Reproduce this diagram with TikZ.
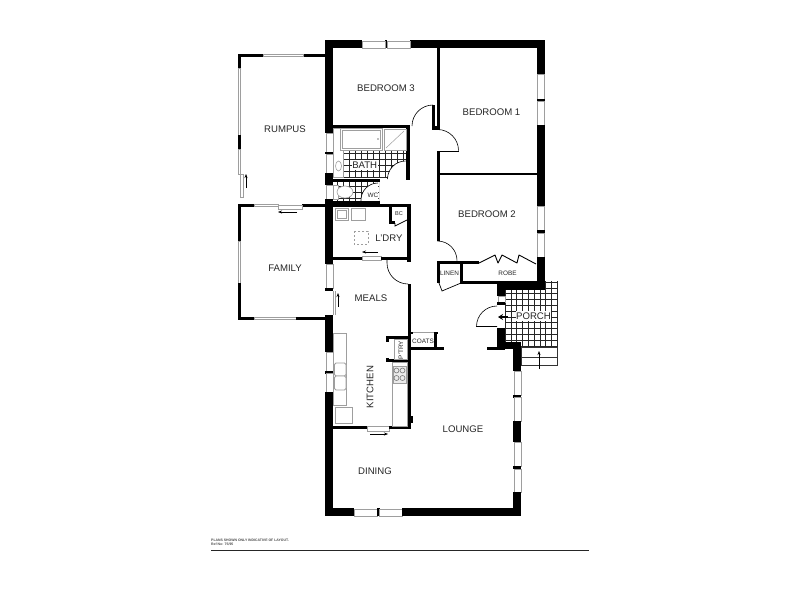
\documentclass[tikz,border=0pt]{standalone}
\usepackage{fontspec}
\setmainfont{Liberation Sans}
\usetikzlibrary{arrows.meta}
\newcommand{\wl}[4]{\fill[black] (#1,#2) rectangle (#3,#4);}
\newcommand{\wn}[4]{\filldraw[winline,fill=white] (#1,#2) rectangle (#3,#4);}
\tikzset{
  winline/.style={draw=black!38,line width=0.5pt},
  fixture/.style={draw=black!38,line width=0.6pt,fill=white},
  tile/.style={black!85,line width=0.6pt},
  doorline/.style={black,line width=0.6pt},
  thinarrow/.style={black,line width=0.5pt,-{Stealth[length=4pt,width=3pt]}},
  big/.style={font=\fontsize{9.6}{10}\selectfont,text=black!85,inner sep=0pt},
  small/.style={font=\fontsize{6.4}{7}\selectfont,text=black!85,inner sep=0pt},
  tiny/.style={font=\fontsize{3.45}{4}\selectfont\bfseries,text=black!70,inner sep=0pt,anchor=west},
}
\begin{document}
\begin{tikzpicture}[x=1pt,y=-1pt]
\useasboundingbox (0,0) rectangle (800,600);
\fill[white] (0,0) rectangle (800,600);
% tiles: bath
\begin{scope}
\clip (343,151) rectangle (406,178);
\foreach \k in {0,...,11} {\draw[tile] (343+6*\k,151) -- (343+6*\k,178);}
\foreach \k in {0,...,4} {\draw[tile] (343,153+6*\k) -- (406,153+6*\k);}
\end{scope}
% tiles: wc
\begin{scope}
\clip (333,181) rectangle (379,204);
\foreach \k in {0,...,8} {\draw[tile] (337+6*\k,181) -- (337+6*\k,204);}
\foreach \k in {0,...,4} {\draw[tile] (333,181+5.6*\k) -- (379,181+5.6*\k);}
\end{scope}
% tiles: porch
\begin{scope}
\clip (505,281) rectangle (558,347);
\foreach \k in {0,...,9} {\draw[tile] (505+5.8*\k,281) -- (505+5.8*\k,347);}
\foreach \k in {0,...,11} {\draw[tile] (505,282+5.8*\k) -- (558,282+5.8*\k);}
\end{scope}
% door sweeps over tiles
\fill[white] (406,161) arc[start angle=-90,end angle=-180,radius=18] -- (388,180) -- (406,180) -- cycle;
\draw[doorline] (405.5,161) arc[start angle=-90,end angle=-180,radius=18];
\fill[white] (378,183) arc[start angle=-90,end angle=-180,radius=17] -- (361,201) -- (378,201) -- cycle;
\draw[doorline] (378,183) arc[start angle=-90,end angle=-180,radius=17] -- (361,201);
% steps
\draw[black!80,line width=0.5pt] (521,347) rectangle (557.5,365);
\draw[black!80,line width=0.5pt] (521,357) -- (557.5,357);
\draw[thinarrow] (539,369) -- (539,351);
% outer walls
\wl{325}{40}{362}{48}\wl{410}{40}{545}{48}\wl{385}{40}{387}{48}
\wn{362}{41}{385}{48}\wn{387}{41}{410}{48}
\wl{537}{40}{545}{74}\wn{537.5}{74}{544}{99}\wl{537}{99}{545}{101.5}\wn{537.5}{101.5}{544}{125}
\wl{537}{125}{545}{206}\wn{537.5}{206}{544}{230}\wl{537}{230}{545}{233}\wn{537.5}{233}{544}{257}
\wl{537}{257}{545}{290}\wl{497}{283}{545}{290}
\wl{325}{40}{333}{133}\wn{326}{133}{333}{152}\wl{325}{152}{333}{154}\wn{326}{154}{333}{173}
\wl{325}{173}{333}{185}\wn{326}{185}{333}{199}\wl{325}{199}{333}{264}
\wn{326}{264}{333}{288}\wl{325}{288}{333}{291}
\draw[winline] (333,291) -- (333,315);
\draw[winline] (335,291) -- (335,315);
\wl{325}{315}{333}{352}\wn{326}{352}{333}{371}\wl{325}{371}{333}{373.5}\wn{326}{373.5}{333}{392}
\wl{325}{392}{333}{516}
\wl{325}{508}{354}{516}\wn{354}{509}{377}{516}\wl{377}{508}{379.5}{516}\wn{379.5}{509}{402}{516}\wl{402}{508}{521}{516}
\wl{513}{342}{521}{371}\wn{514}{371}{521}{395}\wl{513}{395}{521}{397.5}\wn{514}{397.5}{521}{421}
\wl{513}{421}{521}{442}\wn{514}{442}{521}{466}\wl{513}{466}{521}{469}\wn{514}{469}{521}{492}\wl{513}{492}{521}{516}
% entry walls
\wl{497}{290}{505}{296}\wn{498}{296}{505}{302}\wl{497}{302}{505}{305}\wl{497}{328}{505}{343}
\wl{497}{342}{521}{349}\wl{487}{347}{505}{349.5}
% porch door
\draw[doorline] (497,306) arc[start angle=-90,end angle=-180,radius=20.5] -- (497,326.5);
\draw[black,line width=2.6pt,-{Stealth[length=5pt,width=6pt]}] (508,317) -- (498,317);
% rumpus
\wl{238}{54}{263}{57}\wl{303}{54}{325}{57}\wn{263}{54.5}{303}{56.5}
\wl{238}{54}{241}{68}\wn{238.5}{68}{240.5}{135}\wl{238}{135}{241}{149}
\wn{238.5}{149}{240.5}{174}\wn{240.5}{174}{243.5}{197}
\draw[thinarrow] (246,188) -- (246,174);
\wl{238}{204}{254}{207}\wl{302}{204}{325}{207}
\wn{254}{204.5}{278}{206.5}\wn{278}{205.5}{302}{209}
\draw[thinarrow] (297,212) -- (278,212);
% family
\wl{238}{204}{241}{241}\wn{238.5}{241}{240.5}{283}\wl{238}{283}{241}{320}
\wl{238}{316.5}{254}{320}\wn{254}{317}{296}{319}\wl{296}{316.5}{325}{320}
\draw[thinarrow] (338,307) -- (338,293);
% bedrooms
\wl{333}{124.5}{410}{127.5}
\draw[doorline] (433,105) arc[start angle=-90,end angle=-180,radius=21];
\wl{432}{105}{434.5}{127}\wl{432}{126}{439.5}{129.5}
\wl{437}{48}{439.5}{129}
\draw[doorline] (437.5,129.5) arc[start angle=-90,end angle=0,radius=21];
\wl{437}{150.5}{459}{152}\wl{437}{150.5}{439.5}{241}
\wl{437}{172.5}{537}{175}
\draw[doorline] (437.5,241) arc[start angle=-90,end angle=0,radius=19.5];
\wl{437}{260.5}{479}{264}\wl{437}{260.5}{440}{283}\wl{460}{262}{463}{284}\wl{460}{281}{537}{284}
\draw[black,line width=0.9pt,line join=round] (479,263) -- (495,255) -- (498,263) -- (502,255) -- (517,263) -- (519,255) -- (536,264);
\draw[black,line width=0.7pt] (461,283) -- (442,291) -- (439,283);
% bath
\wl{406}{127}{410}{180}
\wl{332}{178.5}{380}{181.5}
\draw[fixture] (333,128) rectangle (343,177);
\draw[fixture] (338.5,166) ellipse[x radius=3,y radius=5];
\draw[fixture] (340,128.5) rectangle (382,150);
\draw[fixture,fill=none] (342,130) rectangle (380,148);
\fill[black!50] (378,139) circle (0.8);
\draw[fixture] (384,129) rectangle (406,150);
\draw[winline] (386,148) -- (404,131);
% WC fixtures
\draw[fixture] (333,185) rectangle (338,199);
\draw[fixture] (345,192) ellipse[x radius=8,y radius=6];
\wl{333}{201}{380}{204}
% laundry
\wl{333}{204}{410}{207}
\wl{407}{204}{410.5}{262}
\wl{333}{257}{362}{260}\wn{362}{256.5}{381}{260}\wl{381}{257}{410}{260}
\draw[thinarrow] (378,252) -- (362,252);
\wl{389}{207}{392}{223}\wl{389}{221}{395}{223.5}
\draw[black,line width=0.7pt] (395,223) -- (395,226) -- (407,220);
\draw[fixture] (335,208) rectangle (348,220);
\draw[fixture] (337,210) rectangle (346,218);
\draw[fixture] (351,208) rectangle (365,220);
\draw[winline,dash pattern=on 2pt off 2pt] (354,231) rectangle (368,244);
% meals door and kitchen wall
\draw[doorline] (387,260) -- (387,263) arc[start angle=180,end angle=90,radius=21];
\wl{407.5}{284}{410.5}{429}
\wl{410}{416}{413}{423}
\wl{333}{426}{367}{429}\wn{367}{426}{389}{431}\wl{389}{426}{410}{429}
\draw[thinarrow] (370,434) -- (388,434);
% pantry
\wl{386}{336}{408}{339}\wl{386}{336}{389}{342}\wl{386}{358}{389}{362}\wl{386}{359}{408}{362}
\draw[winline] (394,339) rectangle (407,359);
% coats
\wl{410}{347}{444}{349.5}\wl{434}{332}{437}{349}\wl{434}{332}{438}{334}\wl{410}{332}{413}{334}
\draw[winline] (413,332.5) -- (434,332.5);
% kitchen fixtures
\draw[fixture] (333,333) rectangle (346.5,405);
\draw[fixture,rounded corners=1.5pt,line width=0.9pt] (334.5,363) rectangle (346,376);
\draw[fixture,rounded corners=1.5pt,line width=0.9pt] (334.5,376) rectangle (346,390);
\draw[fixture] (335,407) rectangle (352,423);
\draw[fixture] (392,362) rectangle (407.5,426);
\filldraw[fixture,fill=black!8] (393,366) rectangle (406,383);
\foreach \cx in {396.5,402.5} \foreach \cy in {370.5,378} {\draw[black!55,line width=0.6pt] (\cx,\cy) circle (2.5);}
% labels
\fill[white] (516,311) rectangle (551,321);
\fill[white] (351.5,160) rectangle (378,169.5);
\node[big] (lb3) at (386,88) {BEDROOM 3};
\node[big] (lb1) at (491.5,112) {BEDROOM 1};
\node[big] (lb2) at (487,214) {BEDROOM 2};
\node[big] (lrum) at (285,129) {RUMPUS};
\node[big] (lfam) at (285,268) {FAMILY};
\node[big] (lbath) at (364.7,164.7) {BATH};
\node[big] (lldry) at (389,238) {L'DRY};
\node[big] (lmeals) at (371,298) {MEALS};
\node[big] (lporch) at (533.5,316) {PORCH};
\node[big,rotate=90] (lkit) at (370,387) {KITCHEN};
\node[big] (llounge) at (463,429) {LOUNGE};
\node[big] (ldining) at (375,471) {DINING};
\node[small] (lwc) at (373,195) {WC};
\node[small,font=\fontsize{5.6}{6}\selectfont] (lbc) at (399,214) {BC};
\node[small] (llinen) at (449.5,273) {LINEN};
\node[small] (lrobe) at (507.5,273) {ROBE};
\node[small] (lcoats) at (423,341) {COATS};
\node[small,rotate=90] (lptry) at (401,350) {P'TRY};
\node[tiny] (lnote) at (211,540) {PLANS SHOWN ONLY INDICATIVE OF LAYOUT.};
\node[tiny] (lref) at (211,544.7) {Ref No: 75/95};
\fill[black!85] (211,549.7) rectangle (589,550.5);
\end{tikzpicture}
\end{document}
